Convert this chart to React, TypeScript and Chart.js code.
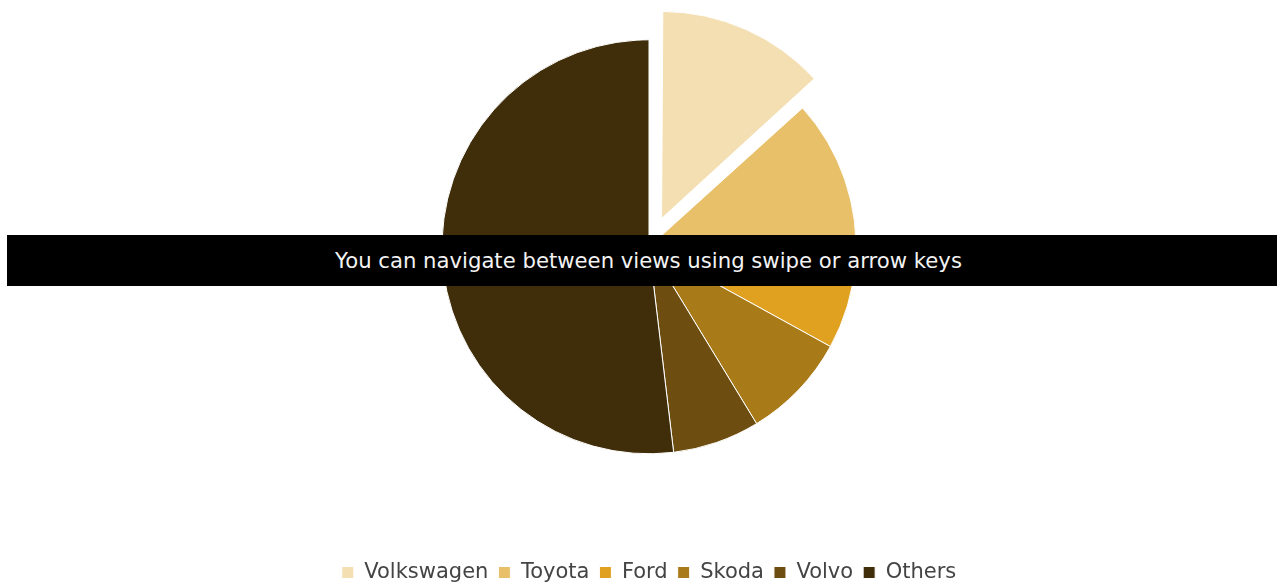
import React, { useEffect, useRef } from "react";
import { Chart, registerables } from "chart.js";

Chart.register(...registerables);

const categories = ["Volkswagen", "Toyota", "Ford", "Skoda", "Volvo", "Others"];
const shares = [13.3, 12.9, 6.8, 8.3, 6.8, 51.9];
const sliceColors = ["#F3DFB1", "#E8C06A", "#E0A020", "#A97A18", "#6E4E10", "#402E0B"];
const sliceOffsets = [124, 0, 0, 0, 0, 0];
const bannerText = "You can navigate between views using swipe or arrow keys";

// Chart.js enlarges an offset arc's radius; keep the exploded slice at the pie's own radius.
const keepSliceRadius = {
  id: "keepSliceRadius",
  afterDatasetUpdate(chart: any, args: any) {
    const meta = chart.getDatasetMeta(args.index);
    meta.data.forEach((arc: any, i: number) => {
      const off = (sliceOffsets[i] || 0) / 4;
      if (!off) return;
      const circ = arc.endAngle - arc.startAngle;
      const fix = 1 - Math.sin(Math.min(Math.PI, circ || 0));
      arc.outerRadius = arc.outerRadius - off * fix;
    });
  },
};

export default function App() {
  const canvasRef = useRef<HTMLCanvasElement | null>(null);

  useEffect(() => {
    if (!canvasRef.current) return;
    const chart = new Chart(canvasRef.current, {
      type: "pie",
      data: {
        labels: categories,
        datasets: [
          {
            data: shares,
            backgroundColor: sliceColors,
            borderColor: "#ffffff",
            borderWidth: 1,
            offset: sliceOffsets,
            radius: 207,
            clip: false,
          } as any,
        ],
      },
      options: {
        animation: false,
        responsive: false,
        layout: { padding: { left: 21, right: 0, top: 23, bottom: 0 } },
        plugins: {
          tooltip: { enabled: false },
          legend: {
            position: "bottom",
            title: { display: true, text: "", padding: { top: 67, bottom: 0 }, font: { size: 12 } },
            labels: {
              color: "#444444",
              boxWidth: 12,
              boxHeight: 12,
              padding: 10,
              font: { family: "DejaVu Sans", size: 21 },
            },
          },
        },
      },
      plugins: [keepSliceRadius],
    });
    return () => chart.destroy();
  }, []);

  return (
    <div
      style={{
        position: "absolute",
        left: 0,
        top: 0,
        width: 1277,
        height: 582,
        overflow: "hidden",
        background: "#ffffff",
      }}
    >
      <canvas ref={canvasRef} width={1277} height={593} style={{ display: "block", width: 1277, height: 593 }} />
      <div
        style={{
          position: "absolute",
          left: 7,
          top: 235,
          width: 1283,
          height: 51,
          background: "#000000",
          color: "#f2f2f2",
          fontFamily: "DejaVu Sans",
          fontSize: 21.2,
          lineHeight: "51px",
          textAlign: "center",
          whiteSpace: "nowrap",
        }}
      >
        {bannerText}
      </div>
    </div>
  );
}
